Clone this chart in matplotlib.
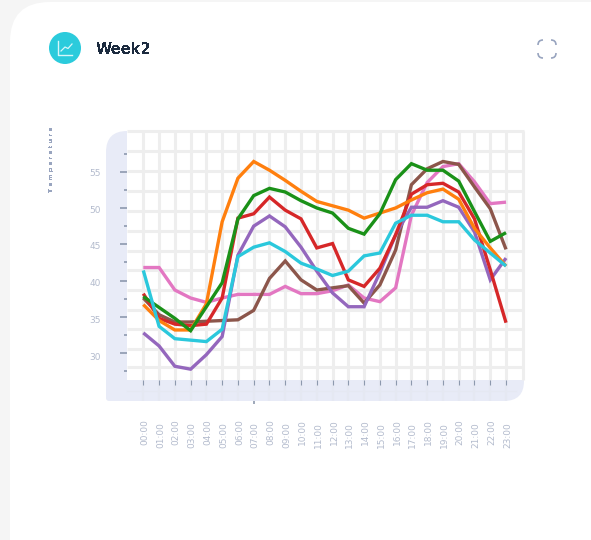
import numpy as np
import matplotlib
matplotlib.use("Agg")
import matplotlib.pyplot as plt
from matplotlib.patches import Circle, FancyBboxPatch, PathPatch
from matplotlib.path import Path
from matplotlib.transforms import ScaledTranslation

hours = [f"{h:02d}:00" for h in range(24)]

orange = [36.7, 34.5, 33.2, 33.2, 36.8, 48.1, 54.1, 56.4, 55.2, 53.8, 52.3, 50.9, 50.3, 49.7, 48.6, 49.3,
          50.0, 51.1, 52.1, 52.6, 51.2, 47.2, 44.5, 42.0]
green = [37.8, 36.3, 34.8, 33.1, 36.4, 39.7, 48.5, 51.7, 52.7, 52.2, 51.0, 50.0, 49.3, 47.2, 46.4, 49.2,
         53.9, 56.1, 55.2, 55.2, 53.7, 49.5, 45.4, 46.6]
red = [38.2, 34.8, 34.0, 33.8, 34.0, 37.6, 48.6, 49.2, 51.5, 49.7, 48.5, 44.5, 45.1, 40.1, 39.2, 41.7,
       46.3, 51.9, 53.2, 53.4, 52.2, 48.5, 41.5, 34.2]
purple = [32.8, 31.0, 28.2, 27.8, 29.8, 32.3, 43.5, 47.5, 48.9, 47.4, 44.6, 41.3, 38.3, 36.4, 36.4, 41.1,
          46.3, 50.1, 50.1, 51.0, 50.1, 46.7, 40.1, 43.1]
brown = [37.6, 35.3, 34.3, 34.3, 34.4, 34.5, 34.6, 35.9, 40.3, 42.7, 40.1, 38.7, 39.0, 39.3, 36.9, 39.4,
         44.2, 53.2, 55.4, 56.4, 56.0, 52.9, 49.9, 44.3]
pink = [41.8, 41.8, 38.7, 37.6, 37.0, 37.6, 38.1, 38.1, 38.1, 39.2, 38.2, 38.2, 38.6, 39.4, 37.6, 37.1,
        39.0, 49.0, 53.5, 55.7, 56.1, 53.6, 50.6, 50.8]
cyan = [41.4, 33.7, 32.0, 31.8, 31.6, 33.3, 43.3, 44.6, 45.2, 44.0, 42.4, 41.6, 40.7, 41.3, 43.4, 43.8,
        47.9, 49.0, 49.0, 48.1, 48.1, 45.6, 43.8, 42.0]

# back to front
series = [(pink, "#e377c2"), (brown, "#8c564b"), (purple, "#9467bd"), (red, "#d62728"),
          (orange, "#ff7f0e"), (green, "#1a9118"), (cyan, "#2bc8dc")]

W, H = 591, 540
fig = plt.figure(figsize=(W / 100, H / 100), dpi=100, facecolor="#f5f5f5")

# page furniture is laid out in pixels on a full-size background axes
bg = fig.add_axes([0, 0, 1, 1], zorder=0)
bg.set_xlim(0, W)
bg.set_ylim(H, 0)
bg.axis("off")

bg.add_patch(FancyBboxPatch((50, 42), 600, 600, boxstyle="round,pad=40,rounding_size=40",
                            fc="white", ec="none"))

# icon
bg.add_patch(Circle((65, 48), 16, fc="#2bcbdc", ec="none"))
bg.plot([58, 58, 72], [41, 55, 55], color="#d8f6fa", lw=1.0)
bg.plot([61, 65, 68, 72], [51, 47, 48.5, 44], color="#d8f6fa", lw=0.9)

bg.text(96, 50, "Week2", fontsize=10.5, fontweight="bold", color="#1c2b3f", va="center",
        antialiased=False)
bg.text(51, 159.5, "T e m p e r a t u r e", fontsize=4.3, fontweight="bold", rotation=90,
        color="#98a4bf", ha="center", va="center", antialiased=False)

# expand icon, four corner brackets
for cx, cy, sx, sy in [(538, 40, 1, 1), (556, 40, -1, 1), (538, 58, 1, -1), (556, 58, -1, -1)]:
    bg.add_patch(PathPatch(Path([(cx, cy + sy * 5), (cx, cy), (cx + sx * 5, cy)],
                                [Path.MOVETO, Path.CURVE3, Path.CURVE3]),
                           fc="none", ec="#98a4bf", lw=1.2))

# lavender band along the left and bottom of the plot
band = Path([(127, 131), (106, 131), (106, 152), (106, 398), (106, 401), (109, 401),
             (504, 401), (524, 401), (524, 381), (524, 380), (127, 380), (127, 131)],
            [Path.MOVETO, Path.CURVE3, Path.CURVE3, Path.LINETO, Path.CURVE3, Path.CURVE3,
             Path.LINETO, Path.CURVE3, Path.CURVE3, Path.LINETO, Path.LINETO, Path.CLOSEPOLY])
bg.add_patch(PathPatch(band, fc="#e8ebf7", ec="none"))

# the grid has its own spacing, independent of the value ticks
grid_x = 143.3 + 15.77 * np.arange(24)
grid_y = np.array([131, 151, 171, 191, 211, 231, 251, 270, 290, 310, 329, 349, 367])
for x in grid_x:
    bg.plot([x, x], [131, 380], color="#eeeeee", lw=2.2, solid_capstyle="butt")
    bg.plot([x, x], [380, 401], color="#e5e8f2", lw=1.5, solid_capstyle="butt")
for y in grid_y:
    bg.plot([127, 524], [y, y], color="#eeeeee", lw=2.2, solid_capstyle="butt")
bg.plot([522.5, 522.5], [131, 380], color="#eeeeee", lw=2.2, solid_capstyle="butt")
bg.plot([127, 516], [391, 391], color="#e5e8f2", lw=1.0)
bg.plot([254, 254], [401, 404], color="#8d99ae", lw=1.2, solid_capstyle="butt")

# value axes over the same pixel box
ax = fig.add_axes([127 / W, 1 - 380 / H, 397 / W, 249 / H], zorder=1)
ax.patch.set_alpha(0)
ax.set_xlim(-1.034, 24.14)
ax.set_ylim(26.31, 60.6)
for s in ax.spines.values():
    s.set_visible(False)

for vals, col in series:
    ax.plot(range(24), vals, color=col, lw=2.4, solid_joinstyle="miter", solid_capstyle="butt")

ax.set_yticks([30, 35, 40, 45, 50, 55])
ax.set_yticks(np.arange(27.5, 60, 5), minor=True)
ax.tick_params(axis="y", which="major", length=5, width=1.2, color="#8d99ae", labelcolor="#b3bbcd",
               labelsize=6.5, pad=14)
ax.tick_params(axis="y", which="minor", length=2.2, width=1.2, color="#8d99ae")

ax.set_xticks(range(24))
ax.set_xticklabels(hours, rotation=90, color="#b3bbcd", fontsize=6.5)
for i, tick in enumerate(ax.xaxis.get_major_ticks()):
    size = 4.3 if i % 2 == 0 else 2.2
    tick.tick1line.set_markersize(size)
    tick.tick1line.set_markeredgecolor("#8d99ae")
    tick.tick1line.set_markeredgewidth(1.2)
    tick.set_pad(29 - size)

# labels sit a little off their ticks: x ones to the right, y ones drifting downward
for lab in ax.get_xticklabels():
    lab.set_transform(lab.get_transform() + ScaledTranslation(1.5 / 100, 0, fig.dpi_scale_trans))
for i, lab in enumerate(ax.get_yticklabels()):
    drop = (5 - i) * 0.6
    lab.set_transform(lab.get_transform() + ScaledTranslation(0, -(drop + 0.5) / 100, fig.dpi_scale_trans))

fig.savefig("out.png", dpi=100, facecolor=fig.get_facecolor())
